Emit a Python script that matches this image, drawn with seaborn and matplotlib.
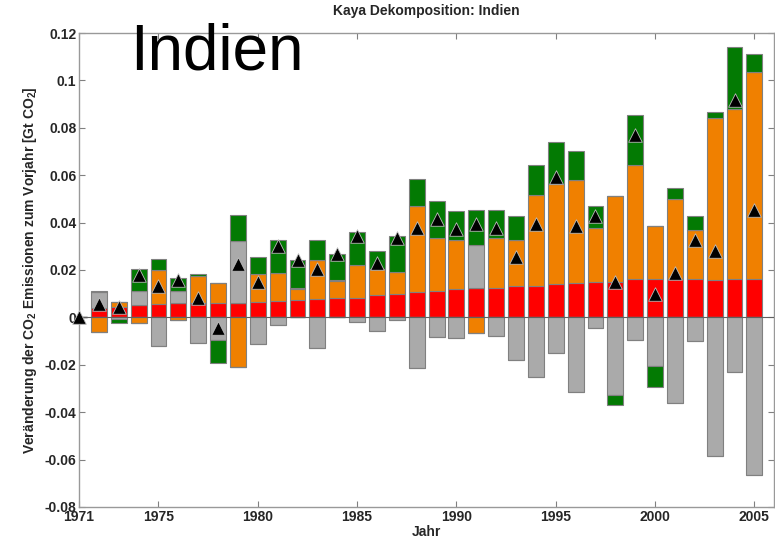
import matplotlib
matplotlib.use("Agg")
import matplotlib.pyplot as plt
import numpy as np
import pandas as pd
import seaborn as sns

# Kaya decomposition of yearly change in CO2 emissions, India (Gt CO2)
years = list(range(1971, 2006))

bevoelkerung = [0.0, 0.0041, 0.0045, 0.0052, 0.0055, 0.0059, 0.0059, 0.0062, 0.0061, 0.0065,
                0.0070, 0.0074, 0.0076, 0.0081, 0.0083, 0.0095, 0.0098, 0.0108, 0.0112, 0.0121,
                0.0125, 0.0125, 0.0131, 0.0132, 0.0139, 0.0146, 0.0150, 0.0150, 0.0160, 0.0161,
                0.0163, 0.0163, 0.0159, 0.0161, 0.0161]
bip_pro_kopf = [0.0, -0.0060, 0.0021, -0.0022, 0.0144, -0.0013, 0.0116, 0.0084, -0.0209, 0.0119,
                0.0117, 0.0044, 0.0164, 0.0072, 0.0139, 0.0110, 0.0093, 0.0362, 0.0223, 0.0205,
                -0.0067, 0.0208, 0.0195, 0.0383, 0.0425, 0.0435, 0.0225, 0.0362, 0.0481, 0.0224,
                0.0337, 0.0206, 0.0683, 0.0720, 0.0875]
energieintensitaet = [0.0, 0.0064, -0.0008, 0.0059, -0.0119, 0.0052, -0.0107, -0.0095, 0.0260, -0.0111,
                      -0.0034, 0.0007, -0.0129, 0.0003, -0.0020, -0.0059, -0.0013, -0.0215, -0.0084, -0.0088,
                      0.0180, -0.0077, -0.0180, -0.0250, -0.0152, -0.0317, -0.0046, -0.0327, -0.0094, -0.0204,
                      -0.0361, -0.0101, -0.0585, -0.0230, -0.0667]
kohlenstoffintensitaet = [0.0, 0.0006, -0.0017, 0.0093, 0.0046, 0.0056, 0.0010, -0.0096, 0.0110, 0.0069,
                          0.0141, 0.0115, 0.0087, 0.0112, 0.0137, 0.0076, 0.0152, 0.0112, 0.0156, 0.0123,
                          0.0150, 0.0119, 0.0102, 0.0126, 0.0178, 0.0121, 0.0095, -0.0045, 0.0214, -0.0092,
                          0.0045, 0.0059, 0.0023, 0.0260, 0.0076]
gesamt = [0.0, 0.0057, 0.0042, 0.0180, 0.0132, 0.0157, 0.0083, -0.0044, 0.0226, 0.0149,
          0.0303, 0.0243, 0.0202, 0.0268, 0.0343, 0.0229, 0.0336, 0.0375, 0.0414, 0.0372,
          0.0393, 0.0379, 0.0255, 0.0393, 0.0592, 0.0386, 0.0427, 0.0150, 0.0768, 0.0097,
          0.0187, 0.0327, 0.0282, 0.0916, 0.0453]

df = pd.DataFrame({
    "Jahr": years,
    "Bevoelkerung": bevoelkerung,
    "BIP": bip_pro_kopf,
    "Energie": energieintensitaet,
    "Kohlenstoff": kohlenstoffintensitaet,
    "Gesamt": gesamt,
})

farben = {"Bevoelkerung": "#ff0000", "BIP": "#f08000", "Energie": "#aaaaaa", "Kohlenstoff": "#037a03"}

sns.set_theme(style="ticks")
plt.rcParams["font.family"] = ["Liberation Sans Narrow", "Liberation Sans", "DejaVu Sans"]
plt.rcParams["font.weight"] = "bold"
plt.rcParams["mathtext.fontset"] = "custom"
plt.rcParams["mathtext.bf"] = "Liberation Sans:bold"
plt.rcParams["mathtext.rm"] = "Liberation Sans:bold"

fig = plt.figure(figsize=(7.75, 5.41), dpi=100)
ax = fig.add_axes([0.102, 0.063, 0.897, 0.876])

# positive parts stack upward, negative parts downward, same order
pos = np.zeros(len(df))
neg = np.zeros(len(df))
for col in ["Bevoelkerung", "BIP", "Energie", "Kohlenstoff"]:
    v = df[col].to_numpy()
    p = np.where(v > 0, v, 0)
    n = np.where(v < 0, v, 0)
    ax.bar(df["Jahr"], p, bottom=pos, width=0.8, color=farben[col],
           edgecolor="#808080", linewidth=0.8, zorder=2)
    ax.bar(df["Jahr"], n, bottom=neg, width=0.8, color=farben[col],
           edgecolor="#808080", linewidth=0.8, zorder=2)
    pos += p
    neg += n

ax.axhline(0, color="#606060", linewidth=0.8, zorder=3)

sns.scatterplot(data=df, x="Jahr", y="Gesamt", marker="^", s=95, color="black",
                edgecolor="#bbbbbb", linewidth=0.6, ax=ax, zorder=5, clip_on=False)

ax.set_xlim(1971, 2006)
ax.set_ylim(-0.08, 0.12)
ax.set_xticks([1971, 1975, 1980, 1985, 1990, 1995, 2000, 2005])
yt = np.round(np.arange(-0.08, 0.121, 0.02), 2)
ax.set_yticks(yt)
ax.set_yticklabels([("%g" % t) for t in yt])
ax.tick_params(direction="in", top=True, right=True, length=4, width=0.8,
               color="#808080", labelsize=10, pad=2)
for s in ax.spines.values():
    s.set_color("#999999")
    s.set_linewidth(1.0)

ax.set_xlabel("Jahr", fontsize=10, fontweight="bold", labelpad=1)
ax.set_ylabel(r"Veränderung der CO$_\mathbf{2}$ Emissionen zum Vorjahr [Gt CO$_\mathbf{2}$]",
              fontsize=10, fontweight="bold", labelpad=4)
ax.set_title("Kaya Dekomposition: Indien", fontsize=10, fontweight="bold", pad=13)

ax.text(1973.55, 0.1044, "Indien", fontsize=46, fontweight="normal",
        family=["Liberation Sans", "DejaVu Sans"], color="black", zorder=6)

fig.savefig("out.png", dpi=100)
